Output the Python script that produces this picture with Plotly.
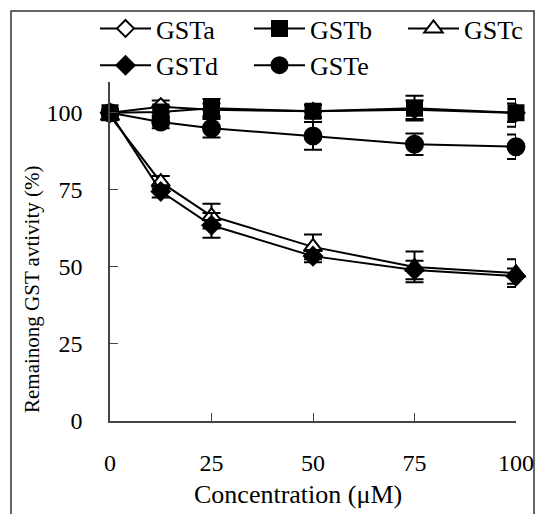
import plotly.graph_objects as go

conc = [0, 12.5, 25, 50, 75, 100]
gsta = [100, 102, 101, 100.5, 101, 100]
gsta_err = [1, 2, 2, 2, 3, 3]
gstb = [100, 100.3, 101.5, 100.5, 101.5, 100]
gstb_err = [1, 2, 3, 2, 4, 4.5]
gstc = [99, 77.5, 66.5, 56.5, 50, 48]
gstc_err = [1, 2, 4, 4, 5, 4.5]
gstd = [100, 74.5, 63.5, 53.5, 49, 47]
gstd_err = [1, 2, 4, 2, 3, 2.5]
gste = [100, 97, 95, 92.5, 89.8, 89]
gste_err = [1, 2, 3, 4.5, 3.5, 4]

FONT = "'Liberation Serif', 'Times New Roman', 'DejaVu Serif', serif"
fig = go.Figure()

def add(name, y, err, symbol, size, fill, rank):
    fig.add_trace(go.Scatter(
        x=conc, y=y, name=name, mode="lines+markers",
        line=dict(color="black", width=2),
        marker=dict(symbol=symbol, size=size, color=fill,
                    line=dict(color="black", width=2)),
        error_y=dict(type="data", array=err, visible=True, color="black",
                     thickness=2, width=9),
        legendrank=rank, cliponaxis=False,
    ))

add("GSTc", gstc, gstc_err, "triangle-up", 16, "white", 3)
add("GSTa", gsta, gsta_err, "diamond", 13, "white", 1)
add("GSTd", gstd, gstd_err, "diamond", 14, "black", 4)
add("GSTe", gste, gste_err, "circle", 17, "black", 5)
add("GSTb", gstb, gstb_err, "square", 15, "black", 2)

ml, mt, mr, mb = 110, 82, 26, 93
W, H = 542, 514
pw, ph = W - ml - mr, H - mt - mb

def px(x):
    return (x - ml) / pw

def py(y):
    return (H - mb - y) / ph

fig.update_layout(
    width=W, height=H,
    margin=dict(l=ml, r=mr, t=mt, b=mb, autoexpand=False),
    paper_bgcolor="white", plot_bgcolor="white",
    font=dict(family=FONT, size=24, color="black"),
    showlegend=True,
    legend=dict(orientation="h", x=px(95), y=py(5), xanchor="left", yanchor="top",
                font=dict(family=FONT, size=26, color="black"),
                entrywidth=88, entrywidthmode="pixels",
                traceorder="normal", bgcolor="rgba(0,0,0,0)",
                itemwidth=51, tracegroupgap=0),
    xaxis=dict(range=[0, 100], tickvals=[0, 25, 50, 75, 100], ticks="inside",
               ticklen=8, tickwidth=1, tickcolor="#444", showline=True,
               linecolor="#444", linewidth=1.5, showgrid=False, zeroline=False,
               tickfont=dict(family=FONT, size=24), ticklabelstandoff=19),
    yaxis=dict(range=[0, 110], tickvals=[0, 25, 50, 75, 100], ticks="inside",
               ticklen=8, tickwidth=1, tickcolor="#444", showline=True,
               linecolor="#444", linewidth=1.5, showgrid=False, zeroline=False,
               tickfont=dict(family=FONT, size=24), ticklabelstandoff=21),
    annotations=[
        dict(text="Concentration (μM)", xref="paper", yref="paper",
             x=px(298), y=py(494), showarrow=False,
             font=dict(family=FONT, size=26), xanchor="center", yanchor="middle"),
        dict(text="Remainong GST avtivity (%)", xref="paper", yref="paper",
             x=px(32), y=py(289), showarrow=False, textangle=-90,
             font=dict(family=FONT, size=21), xanchor="center", yanchor="middle"),
    ],
    shapes=[
        dict(type="rect", xref="paper", yref="paper",
             x0=px(11), x1=px(534), y0=py(530), y1=py(11),
             line=dict(color="#333", width=1.5), fillcolor="rgba(0,0,0,0)"),
    ],
)

fig.write_html("out.html", config={"displayModeBar": False},
               post_script="document.body.style.margin='0px';document.body.style.overflow='hidden';")
